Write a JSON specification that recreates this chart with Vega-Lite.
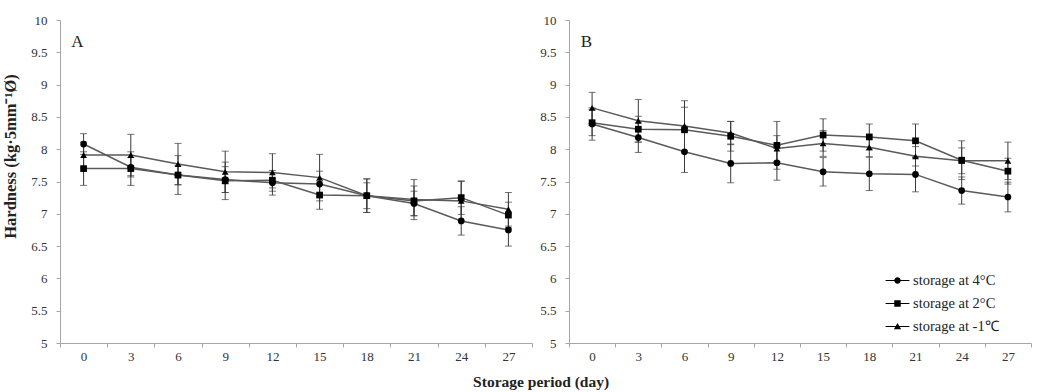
{
  "$schema": "https://vega.github.io/schema/vega-lite/v6.json",
  "padding": {"left": 2, "top": 14, "right": 2, "bottom": 5},
  "background": "white",
  "datasets": {
    "A": [
      {"day": 0, "s": "storage at 4°C", "m": 8.08, "sd": 0.16},
      {"day": 3, "s": "storage at 4°C", "m": 7.72, "sd": 0.15},
      {"day": 6, "s": "storage at 4°C", "m": 7.60, "sd": 0.30},
      {"day": 9, "s": "storage at 4°C", "m": 7.53, "sd": 0.20},
      {"day": 12, "s": "storage at 4°C", "m": 7.48, "sd": 0.19},
      {"day": 15, "s": "storage at 4°C", "m": 7.46, "sd": 0.20},
      {"day": 18, "s": "storage at 4°C", "m": 7.28, "sd": 0.26},
      {"day": 21, "s": "storage at 4°C", "m": 7.16, "sd": 0.19},
      {"day": 24, "s": "storage at 4°C", "m": 6.89, "sd": 0.22},
      {"day": 27, "s": "storage at 4°C", "m": 6.75, "sd": 0.25},
      {"day": 0, "s": "storage at 2°C", "m": 7.70, "sd": 0.26},
      {"day": 3, "s": "storage at 2°C", "m": 7.70, "sd": 0.26},
      {"day": 6, "s": "storage at 2°C", "m": 7.60, "sd": 0.15},
      {"day": 9, "s": "storage at 2°C", "m": 7.51, "sd": 0.29},
      {"day": 12, "s": "storage at 2°C", "m": 7.52, "sd": 0.12},
      {"day": 15, "s": "storage at 2°C", "m": 7.29, "sd": 0.22},
      {"day": 18, "s": "storage at 2°C", "m": 7.28, "sd": 0.20},
      {"day": 21, "s": "storage at 2°C", "m": 7.20, "sd": 0.23},
      {"day": 24, "s": "storage at 2°C", "m": 7.25, "sd": 0.26},
      {"day": 27, "s": "storage at 2°C", "m": 6.98, "sd": 0.20},
      {"day": 0, "s": "storage at -1℃", "m": 7.91, "sd": 0.20},
      {"day": 3, "s": "storage at -1℃", "m": 7.91, "sd": 0.32},
      {"day": 6, "s": "storage at -1℃", "m": 7.77, "sd": 0.32},
      {"day": 9, "s": "storage at -1℃", "m": 7.65, "sd": 0.32},
      {"day": 12, "s": "storage at -1℃", "m": 7.64, "sd": 0.29},
      {"day": 15, "s": "storage at -1℃", "m": 7.56, "sd": 0.36},
      {"day": 18, "s": "storage at -1℃", "m": 7.28, "sd": 0.26},
      {"day": 21, "s": "storage at -1℃", "m": 7.22, "sd": 0.31},
      {"day": 24, "s": "storage at -1℃", "m": 7.20, "sd": 0.30},
      {"day": 27, "s": "storage at -1℃", "m": 7.07, "sd": 0.26}
    ],
    "B": [
      {"day": 0, "s": "storage at 4°C", "m": 8.39, "sd": 0.25},
      {"day": 3, "s": "storage at 4°C", "m": 8.18, "sd": 0.23},
      {"day": 6, "s": "storage at 4°C", "m": 7.96, "sd": 0.32},
      {"day": 9, "s": "storage at 4°C", "m": 7.78, "sd": 0.30},
      {"day": 12, "s": "storage at 4°C", "m": 7.79, "sd": 0.27},
      {"day": 15, "s": "storage at 4°C", "m": 7.65, "sd": 0.22},
      {"day": 18, "s": "storage at 4°C", "m": 7.62, "sd": 0.26},
      {"day": 21, "s": "storage at 4°C", "m": 7.61, "sd": 0.27},
      {"day": 24, "s": "storage at 4°C", "m": 7.36, "sd": 0.21},
      {"day": 27, "s": "storage at 4°C", "m": 7.26, "sd": 0.23},
      {"day": 0, "s": "storage at 2°C", "m": 8.41, "sd": 0.20},
      {"day": 3, "s": "storage at 2°C", "m": 8.31, "sd": 0.20},
      {"day": 6, "s": "storage at 2°C", "m": 8.30, "sd": 0.35},
      {"day": 9, "s": "storage at 2°C", "m": 8.20, "sd": 0.23},
      {"day": 12, "s": "storage at 2°C", "m": 8.06, "sd": 0.37},
      {"day": 15, "s": "storage at 2°C", "m": 8.22, "sd": 0.25},
      {"day": 18, "s": "storage at 2°C", "m": 8.19, "sd": 0.20},
      {"day": 21, "s": "storage at 2°C", "m": 8.13, "sd": 0.26},
      {"day": 24, "s": "storage at 2°C", "m": 7.83, "sd": 0.30},
      {"day": 27, "s": "storage at 2°C", "m": 7.66, "sd": 0.20},
      {"day": 0, "s": "storage at -1℃", "m": 8.64, "sd": 0.24},
      {"day": 3, "s": "storage at -1℃", "m": 8.44, "sd": 0.33},
      {"day": 6, "s": "storage at -1℃", "m": 8.36, "sd": 0.39},
      {"day": 9, "s": "storage at -1℃", "m": 8.25, "sd": 0.18},
      {"day": 12, "s": "storage at -1℃", "m": 8.01, "sd": 0.20},
      {"day": 15, "s": "storage at -1℃", "m": 8.09, "sd": 0.20},
      {"day": 18, "s": "storage at -1℃", "m": 8.03, "sd": 0.15},
      {"day": 21, "s": "storage at -1℃", "m": 7.89, "sd": 0.15},
      {"day": 24, "s": "storage at -1℃", "m": 7.82, "sd": 0.20},
      {"day": 27, "s": "storage at -1℃", "m": 7.82, "sd": 0.29}
    ],
    "labA": [{"t": "A", "day": 0, "m": 9.58}],
    "labB": [{"t": "B", "day": 0, "m": 9.58}]
  },
  "title": {
    "text": "Storage period (day)",
    "orient": "bottom",
    "anchor": "middle",
    "font": "Liberation Serif",
    "fontSize": 15.5,
    "fontWeight": "bold",
    "color": "#222222",
    "offset": 12,
    "dx": 24
  },
  "spacing": 6,
  "hconcat": [
    {
      "width": 472,
      "height": 323,
      "encoding": {
        "x": {"field": "day", "type": "ordinal", "scale": {"type": "band", "paddingInner": 0, "paddingOuter": 0},
              "axis": {"labelAngle": 0, "tickBand": "extent", "title": null, "tickSize": 4, "labelPadding": 3}},
        "y": {"field": "m", "type": "quantitative", "scale": {"domain": [5, 10], "nice": false, "zero": false},
              "axis": {"values": [5, 5.5, 6, 6.5, 7, 7.5, 8, 8.5, 9, 9.5, 10], "format": "~g", "grid": false, "tickSize": 4, "labelPadding": 9, "labelOverlap": false,
                       "title": "Hardness (kg·5mm⁻¹Ø)", "titleFontSize": 16.5, "titleFontWeight": "bold", "titleColor": "#222222", "titleY": 136, "titlePadding": 12}}
      },
      "layer": [
        {
          "data": {"name": "A"},
          "mark": {"type": "errorbar", "ticks": {"size": 7}, "color": "#3a3a3a", "thickness": 1},
          "encoding": {"yError": {"field": "sd"}, "detail": {"field": "s"}}
        },
        {
          "data": {"name": "A"},
          "mark": {"type": "line", "color": "#5a5a5a", "strokeWidth": 1.5},
          "encoding": {"detail": {"field": "s"}}
        },
        {
          "data": {"name": "A"},
          "mark": {"type": "point", "filled": true, "color": "#000000", "opacity": 1, "size": 45},
          "encoding": {
            "shape": {"field": "s", "type": "nominal", "legend": null,
                      "scale": {"domain": ["storage at 4°C", "storage at 2°C", "storage at -1℃"], "range": ["circle", "square", "triangle-up"]}}
          }
        },
        {
          "data": {"name": "labA"},
          "mark": {"type": "text", "align": "right", "baseline": "alphabetic", "font": "Liberation Serif", "fontSize": 17, "color": "#222222"},
          "encoding": {"text": {"field": "t"}}
        }
      ]
    },
    {
      "width": 462,
      "height": 323,
      "resolve": {"scale": {"shape": "independent"}},
      "encoding": {
        "x": {"field": "day", "type": "ordinal", "scale": {"type": "band", "paddingInner": 0, "paddingOuter": 0},
              "axis": {"labelAngle": 0, "tickBand": "extent", "title": null, "tickSize": 4, "labelPadding": 3}},
        "y": {"field": "m", "type": "quantitative", "scale": {"domain": [5, 10], "nice": false, "zero": false},
              "axis": {"values": [5, 5.5, 6, 6.5, 7, 7.5, 8, 8.5, 9, 9.5, 10], "format": "~g", "grid": false, "tickSize": 4, "labelPadding": 9, "labelOverlap": false, "title": null}}
      },
      "layer": [
        {
          "data": {"name": "B"},
          "mark": {"type": "errorbar", "ticks": {"size": 7}, "color": "#3a3a3a", "thickness": 1},
          "encoding": {"yError": {"field": "sd"}, "detail": {"field": "s"}}
        },
        {
          "data": {"name": "B"},
          "mark": {"type": "line", "color": "#5a5a5a", "strokeWidth": 1.5},
          "encoding": {"detail": {"field": "s"}}
        },
        {
          "data": {"name": "B"},
          "mark": {"type": "point", "filled": true, "color": "#000000", "opacity": 1, "size": 45},
          "encoding": {
            "shape": {"field": "s", "type": "nominal", "legend": null,
                      "scale": {"domain": ["storage at 4°C", "storage at 2°C", "storage at -1℃"], "range": ["circle", "square", "triangle-up"]}}
          }
        },
        {
          "data": {"name": "B"},
          "transform": [{"filter": "datum.m > 100"}],
          "mark": {"type": "point", "filled": true, "color": "#000000", "opacity": 1},
          "encoding": {
            "shape": {"field": "s", "type": "nominal",
                      "scale": {"domain": ["storage at 4°C", "storage at 2°C", "storage at -1℃"],
                                "range": ["M-1.4,-0.065H1.4V0.065H-1.4ZM0.38,0A0.38,0.38,0,1,1,-0.38,0A0.38,0.38,0,1,1,0.38,0Z",
                                          "M-1.4,-0.065H1.4V0.065H-1.4ZM-0.38,-0.38H0.38V0.38H-0.38Z",
                                          "M-1.4,-0.065H1.4V0.065H-1.4ZM0,-0.42L0.42,0.32H-0.42Z"]},
                      "legend": {"orient": "none", "legendX": 319, "legendY": 251, "title": null, "padding": 0,
                                 "symbolSize": 289, "symbolFillColor": "#1a1a1a",
                                 "labelFont": "Liberation Serif", "labelFontSize": 14.5, "labelColor": "#222222",
                                 "rowPadding": 7, "labelOffset": 6}}
          }
        },
        {
          "data": {"name": "labB"},
          "mark": {"type": "text", "align": "right", "baseline": "alphabetic", "font": "Liberation Serif", "fontSize": 17, "color": "#222222"},
          "encoding": {"text": {"field": "t"}}
        }
      ]
    }
  ],
  "config": {
    "font": "Liberation Serif",
    "view": {"stroke": null},
    "axis": {
      "domainColor": "#a6a6a6",
      "tickColor": "#a6a6a6",
      "labelFont": "Liberation Serif",
      "labelFontSize": 13,
      "labelColor": "#333333",
      "titleFont": "Liberation Serif"
    }
  }
}
